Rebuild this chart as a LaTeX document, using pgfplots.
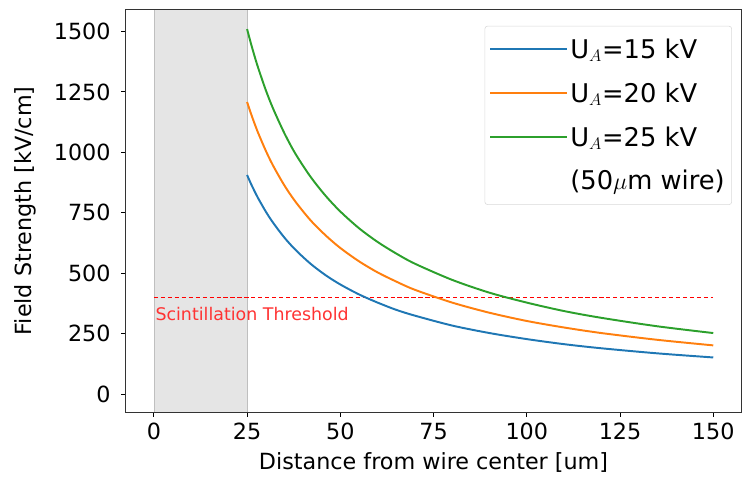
\documentclass[border=0pt]{standalone}
\usepackage{fontspec}
\setmainfont{DejaVu Sans}
\usepackage{pgfplots}
\pgfplotsset{compat=1.18}
\definecolor{c1}{HTML}{1F77B4}
\definecolor{c2}{HTML}{FF7F0E}
\definecolor{c3}{HTML}{2CA02C}
\definecolor{thr}{HTML}{FF0000}
\begin{document}
\begin{tikzpicture}
\begin{axis}[
    name=ax,
    scale only axis,
    width=442pt, height=289pt,
    xmin=-7.5, xmax=157.5,
    ymin=-75, ymax=1590,
    xtick={0,25,50,75,100,125,150},
    ytick={0,250,500,750,1000,1250,1500},
    tick align=outside,
    axis x line*=bottom, axis y line*=left,
    major tick length=3.5pt,
    tick style={black, line width=0.6pt},
    axis line style={draw=none},
    font=\fontsize{16}{19}\selectfont,
    /pgf/number format/assume math mode=true,
    /pgf/number format/1000 sep={},
    xlabel={Distance from wire center [um]},
    ylabel={Field Strength [kV/cm]},
    yticklabel style={xshift=-4pt},
    xticklabel style={yshift=-1pt},
    xlabel style={yshift=-2pt},
    ylabel style={yshift=6pt},
    legend style={at={(0.985,0.96)}, anchor=north east, draw=black!15,
        rounded corners=2pt, font=\fontsize{18.5}{21}\selectfont,
        row sep=12pt, inner xsep=3pt, inner ysep=7pt},
    legend image code/.code={\draw[#1] (0pt,0pt) -- (40pt,0pt); \path (0pt,0pt) -- (55pt,0pt);},
    legend cell align=left,
    clip=false,
]
\fill[black!10] (axis cs:0,-75) rectangle (axis cs:25,1590);
\draw[black!25, line width=0.5pt] (axis cs:0,-75) -- (axis cs:0,1590);
\draw[black!25, line width=0.5pt] (axis cs:25,-75) -- (axis cs:25,1590);
\draw[black!80, line width=0.8pt] (rel axis cs:0,0) rectangle (rel axis cs:1,1);
\draw[thr, densely dashed, line width=1pt] (axis cs:0,400) -- (axis cs:150,400);
\addplot[c1, line width=1.4pt, smooth] coordinates {
(25,906)(26,871)(27,839)(28,809)(30,755)(32,708)(35,647)(38,596)(42,539)(46,492)(50,453)(55,412)(60,378)(65,348)(70,324)(80,283)(90,252)(100,227)(110,206)(120,189)(135,168)(150,151)};
\addlegendentry{U$_{A}$=15 kV}
\addplot[c2, line width=1.4pt, smooth] coordinates {
(25,1208)(26,1162)(27,1119)(28,1079)(30,1007)(32,944)(35,863)(38,795)(42,719)(46,657)(50,604)(55,549)(60,503)(65,465)(70,431)(80,378)(90,336)(100,302)(110,275)(120,252)(135,224)(150,201)};
\addlegendentry{U$_{A}$=20 kV}
\addplot[c3, line width=1.4pt, smooth] coordinates {
(25,1510)(26,1452)(27,1398)(28,1348)(30,1258)(32,1180)(35,1079)(38,993)(42,899)(46,821)(50,755)(55,686)(60,629)(65,581)(70,539)(80,472)(90,419)(100,378)(110,343)(120,315)(135,280)(150,252)};
\addlegendentry{U$_{A}$=25 kV}
\addlegendimage{empty legend}
\addlegendentry{(50$\mu$m wire)\hspace{10pt}}
\node[anchor=north west, text=thr!80, font=\fontsize{12.5}{15}\selectfont, inner sep=1pt]
    at (axis cs:0,365) {Scintillation Threshold};
\end{axis}
\path (ax.north east) ++(2pt,7pt);
\path (current bounding box.south west) ++(-7pt,0);
\end{tikzpicture}
\end{document}
